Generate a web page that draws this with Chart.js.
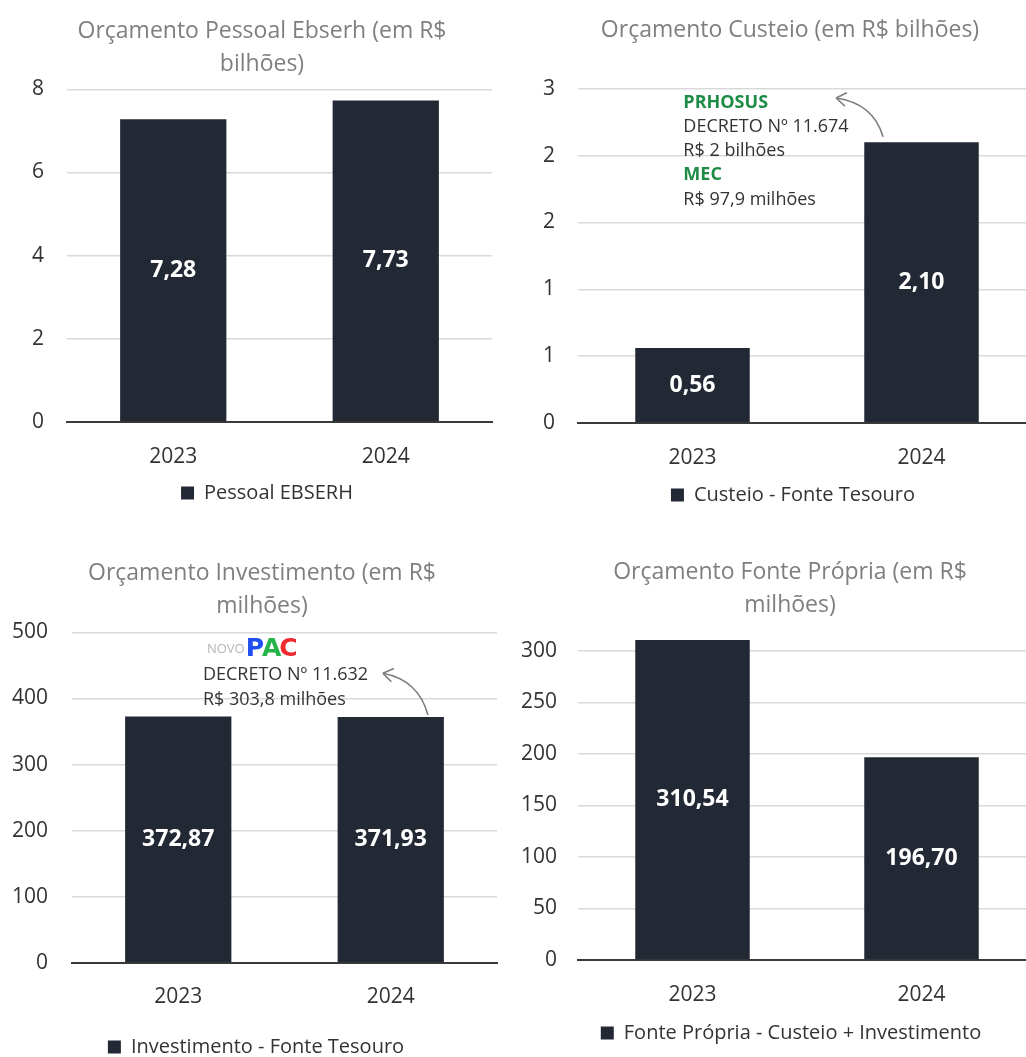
<!DOCTYPE html>
<html lang="pt-BR">
<head>
<meta charset="utf-8">
<title>Orçamento Ebserh</title>
<script src="https://cdn.jsdelivr.net/npm/chart.js@4.4.1/dist/chart.umd.min.js"></script>
<style>
  html, body { margin: 0; padding: 0; background: #fff; }
  body { width: 1026px; height: 1057px; overflow: hidden; position: relative; }
  .box { position: absolute; }
</style>
</head>
<body>
<div class="box" style="left:0;top:0;width:524px;height:513px"><canvas id="chartPessoal"></canvas></div>
<div class="box" style="left:513px;top:0;width:554px;height:515px"><canvas id="chartCusteio"></canvas></div>
<div class="box" style="left:0;top:530px;width:524px;height:537px"><canvas id="chartInvest"></canvas></div>
<div class="box" style="left:513px;top:530px;width:554px;height:523px"><canvas id="chartPropria"></canvas></div>

<script>
const anos = ['2023', '2024'];
const pessoal = [7.28, 7.73];
const custeio = [0.56, 2.10];
const investimento = [372.87, 371.93];
const fontePropria = [310.54, 196.70];

// Excel rounds the 0.5 steps on this axis
const custeioTicks = ['0', '1', '1', '2', '2', '3'];

const notaCusteio = ['PRHOSUS', 'DECRETO Nº 11.674', 'R$ 2 bilhões', 'MEC', 'R$ 97,9 milhões'];
const notaInvest = ['DECRETO Nº 11.632', 'R$ 303,8 milhões'];

const FONT = "'Open Sans', sans-serif";
const COR_BARRA = '#232934';
const VERDE = '#1e8b47';

Chart.defaults.font.family = FONT;

const fmt = v => v.toFixed(2).replace('.', ',');

// value labels in the middle of each bar
const rotulos = {
  id: 'rotulos',
  afterDatasetsDraw(chart) {
    const { ctx } = chart;
    const meta = chart.getDatasetMeta(0);
    const vals = chart.data.datasets[0].data;
    ctx.save();
    ctx.fillStyle = '#fff';
    ctx.font = `bold 23px ${FONT}`;
    ctx.textAlign = 'center';
    ctx.textBaseline = 'middle';
    meta.data.forEach((bar, i) => {
      ctx.fillText(fmt(vals[i]), bar.x, (bar.y + bar.base) / 2);
    });
    ctx.restore();
  }
};

// Excel centres title/legend a bit off the plot; move the boxes after layout
const centrar = {
  id: 'centrar',
  afterLayout(chart, args, opts) {
    const mover = (box, cx) => {
      if (!box || cx == null) return;
      const w = box.right - box.left;
      box.left = cx - w / 2;
      box.right = cx + w / 2;
    };
    mover(chart.titleBlock, opts.titulo);
    mover(chart.legend, opts.legenda);
  }
};

// annotation text + curved arrow, anchored in data units (category index, value)
const notas = {
  id: 'notas',
  afterDraw(chart, args, opts) {
    if (!opts || !opts.linhas) return;
    const { ctx } = chart;
    const xs = chart.scales.x, ys = chart.scales.y;
    const px = (i, v) => [xs.getPixelForValue(i), ys.getPixelForValue(v)];
    ctx.save();
    const [tx, ty] = px(opts.x, opts.y);
    ctx.textAlign = 'left';
    ctx.textBaseline = 'middle';
    opts.linhas.forEach((l, k) => {
      const verde = opts.destaque && opts.destaque.includes(k);
      ctx.font = `${verde ? 'bold ' : ''}18px ${FONT}`;
      ctx.fillStyle = verde ? VERDE : '#333';
      ctx.fillText(l, tx, ty + k * opts.passo);
    });

    if (opts.logo) {
      const [lx, ly] = px(opts.logo[0], opts.logo[1]);
      ctx.font = `13px ${FONT}`;
      ctx.fillStyle = '#b5b5b5';
      ctx.fillText('NOVO', lx, ly + 1);
      let cx = lx + ctx.measureText('NOVO').width + 1;
      ctx.font = "bold 25px 'DejaVu Sans'";
      [['P', '#1f4ff0'], ['A', '#25b34a'], ['C', '#ee2a2f']].forEach(([c, cor]) => {
        ctx.fillStyle = cor;
        ctx.fillText(c, cx, ly + 1);
        cx += ctx.measureText(c).width - 2;
      });
    }

    const s = opts.seta;
    const [x0, y0] = px(s.de[0], s.de[1]);
    const [xc, yc] = px(s.ctrl[0], s.ctrl[1]);
    const [x1, y1] = px(s.para[0], s.para[1]);
    ctx.strokeStyle = '#7f7f7f';
    ctx.lineWidth = 1.6;
    ctx.beginPath();
    ctx.moveTo(x0, y0);
    ctx.quadraticCurveTo(xc, yc, x1, y1);
    ctx.stroke();
    const ang = Math.atan2(y1 - yc, x1 - xc);
    ctx.beginPath();
    [0.6, -0.6].forEach(d => {
      ctx.moveTo(x1, y1);
      ctx.lineTo(x1 - 12 * Math.cos(ang + d), y1 - 12 * Math.sin(ang + d));
    });
    ctx.stroke();
    ctx.restore();
  }
};

function makeChart(canvasId, label, values, cfg) {
  return new Chart(document.getElementById(canvasId), {
    type: 'bar',
    data: {
      labels: anos,
      datasets: [{
        label,
        data: values,
        backgroundColor: COR_BARRA,
        barPercentage: 0.5,
        categoryPercentage: 1,
      }],
    },
    options: {
      responsive: true,
      maintainAspectRatio: false,
      animation: false,
      layout: { padding: { left: 0, right: cfg.padR, top: 0, bottom: 0 } },
      plugins: {
        title: {
          display: true,
          text: cfg.titulo,
          color: '#7f7f7f',
          font: { size: 23, weight: 'normal', lineHeight: 1.42 },
          padding: cfg.titlePad,
        },
        legend: {
          position: 'bottom',
          labels: { color: '#333', font: { size: 20 }, boxWidth: 13, boxHeight: 13, padding: 10 },
        },
        tooltip: { enabled: false },
        centrar: cfg.centro,
        notas: cfg.notas || {},
      },
      scales: {
        x: {
          grid: { display: false, drawTicks: false },
          border: { color: '#3a3a3a', width: 2 },
          ticks: { color: '#333', font: { size: 21 }, padding: cfg.xPad },
          afterFit: s => { s.height = cfg.xH; },
        },
        y: {
          min: 0,
          max: cfg.max,
          grid: { color: '#d9d9d9', lineWidth: 1.5, drawTicks: false },
          border: { display: false },
          ticks: {
            stepSize: cfg.step,
            color: '#333',
            font: { size: 21 },
            padding: cfg.yPad,
            includeBounds: false,
            callback: cfg.tickFmt || (v => v),
          },
          afterFit: s => { s.width = cfg.yW; },
        },
      },
    },
    plugins: [rotulos, centrar, notas],
  });
}

makeChart('chartPessoal', 'Pessoal EBSERH', pessoal, {
  titulo: ['Orçamento Pessoal Ebserh (em R$', 'bilhões)'],
  titlePad: { top: 15, bottom: 9 },
  centro: { titulo: 262, legenda: 267 },
  padR: 32, yW: 67, yPad: 23, xH: 51, xPad: 22,
  max: 8, step: 2,
});

makeChart('chartCusteio', 'Custeio - Fonte Tesouro', custeio, {
  titulo: 'Orçamento Custeio (em R$ bilhões)',
  titlePad: { top: 14, bottom: 42 },
  centro: { titulo: 277, legenda: 280 },
  padR: 31, yW: 65, yPad: 23, xH: 52, xPad: 22,
  max: 2.5, step: 0.5,
  tickFmt: (v, i) => custeioTicks[i],
  notas: {
    linhas: notaCusteio, destaque: [0, 3],
    x: -0.04, y: 2.395, passo: 24.2,
    seta: { de: [0.832, 2.14], ctrl: [0.79, 2.39], para: [0.627, 2.43] },
  },
});

makeChart('chartInvest', 'Investimento - Fonte Tesouro', investimento, {
  titulo: ['Orçamento Investimento (em R$', 'milhões)'],
  titlePad: { top: 27, bottom: 10 },
  centro: { titulo: 262, legenda: 256 },
  padR: 27, yW: 72, yPad: 24, xH: 64, xPad: 21,
  max: 500, step: 100,
  notas: {
    linhas: notaInvest,
    x: 0.116, y: 435, passo: 25,
    logo: [0.135, 476],
    seta: { de: [1.175, 375], ctrl: [1.13, 428], para: [0.963, 438] },
  },
});

makeChart('chartPropria', 'Fonte Própria - Custeio + Investimento', fontePropria, {
  titulo: ['Orçamento Fonte Própria (em R$', 'milhões)'],
  titlePad: { top: 26, bottom: 9 },
  centro: { titulo: 277, legenda: 278 },
  padR: 31, yW: 65, yPad: 21, xH: 53, xPad: 22,
  max: 320, step: 50,
});
</script>
</body>
</html>
